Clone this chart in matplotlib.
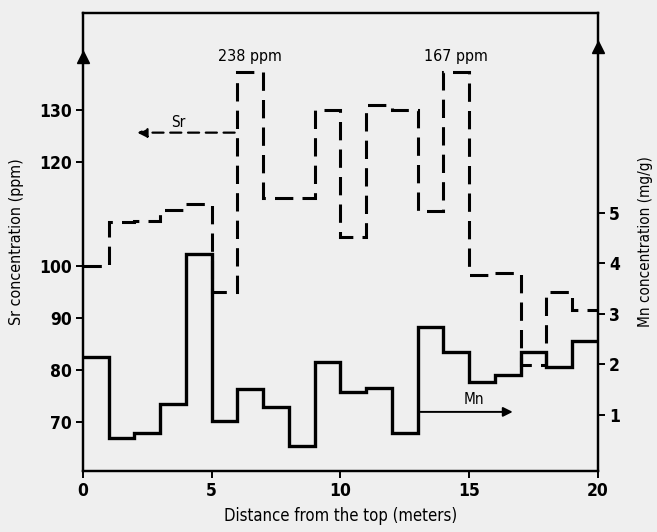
import numpy as np
import matplotlib.pyplot as plt

plt.rcParams['font.family'] = ['DejaVu Sans']
plt.rcParams['font.stretch'] = 'condensed'

# depth intervals (m), 1 m samples
edges = np.arange(0, 21, 1)

# Sr (ppm), two samples are off scale and shown clipped with a label
sr_ppm = [100, 108.5, 108.7, 110.8, 111.8, 95, 238, 113, 113, 130,
          105.5, 131, 130, 110.5, 167, 98.2, 98.6, 81, 95, 91.5]
sr_cap = 137.3

# Mn (mg/g)
mn = [2.15, 0.55, 0.64, 1.22, 4.19, 0.88, 1.51, 1.16, 0.39, 2.04,
      1.46, 1.53, 0.64, 2.74, 2.25, 1.65, 1.79, 2.25, 1.95, 2.47]

sr_ticks = [70, 80, 90, 100, 120, 130]
mn_ticks = [1, 2, 3, 4, 5]
x_ticks = [0, 5, 10, 15, 20]

bg = '#efefef'
fig = plt.figure(figsize=(6.57, 5.32), dpi=100, facecolor=bg)
ax = fig.add_axes([0.1263, 0.1147, 0.7837, 0.861])
ax.set_facecolor(bg)
ax2 = ax.twinx()

sr_plot = np.minimum(sr_ppm, sr_cap)
ax.stairs(sr_plot, edges, baseline=None, color='black', lw=2.2,
          linestyle=(0, (6, 3)))
ax2.stairs(mn, edges, baseline=None, color='black', lw=2.4)

ax.set_xlim(0, 20)
ax.set_ylim(60.6, 148.6)
ax2.set_ylim(-0.11, 8.96)

ax.set_xticks(x_ticks)
ax.set_yticks(sr_ticks)
ax2.set_yticks(mn_ticks)

for a in (ax, ax2):
    for s in a.spines.values():
        s.set_linewidth(1.6)
    a.tick_params(direction='out', length=5, width=1.4, labelsize=12.5, pad=3)
    for lab in a.get_xticklabels() + a.get_yticklabels():
        lab.set_fontweight('bold')

ax.set_xlabel('Distance from the top (meters)', fontsize=12, labelpad=5)
ax.set_ylabel('Sr concentration (ppm)', fontsize=11.5, labelpad=11)
ax2.set_ylabel('Mn concentration (mg/g)', fontsize=11, rotation=90, labelpad=13)

# off-scale labels
ax.text(6.5, 138.8, '238 ppm', ha='center', va='bottom', fontsize=11.5)
ax.text(14.5, 138.8, '167 ppm', ha='center', va='bottom', fontsize=11.5)

# series arrows
ax.annotate('', xy=(2.0, 125.6), xytext=(6.0, 125.6),
            arrowprops=dict(arrowstyle='-|>', lw=1.6, linestyle=(0, (5, 3)),
                            color='black', mutation_scale=14))
ax.text(3.7, 127.6, 'Sr', ha='center', va='center', fontsize=11)
ax2.annotate('', xy=(16.8, 1.06), xytext=(13.0, 1.06),
             arrowprops=dict(arrowstyle='-|>', lw=1.4, color='black',
                             mutation_scale=14))
ax2.text(15.2, 1.15, 'Mn', ha='center', va='bottom', fontsize=11)

# arrowheads on the vertical axes
ax.plot([0], [0.904], marker='^', color='black', ms=8, transform=ax.transAxes,
        clip_on=False)
ax.plot([1], [0.926], marker='^', color='black', ms=8, transform=ax.transAxes,
        clip_on=False)

fig.savefig('out.png', dpi=100, facecolor=bg)
